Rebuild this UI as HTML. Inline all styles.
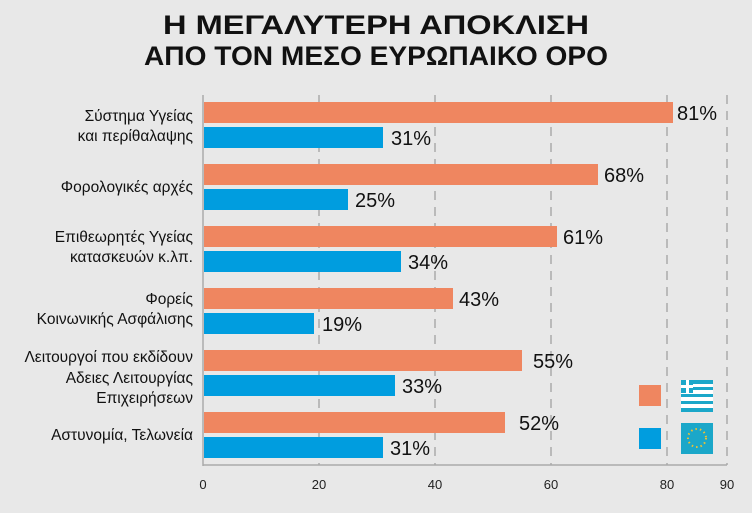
<!DOCTYPE html>
<html><head><meta charset="utf-8"><style>
body{margin:0;background:#fff}
svg{display:block}
text{font-family:"Liberation Sans",sans-serif}
</style></head><body>
<svg width="752" height="519" xmlns="http://www.w3.org/2000/svg">
<rect x="0" y="0" width="752" height="513" fill="#e8e8e8"/>
<text x="376" y="34" text-anchor="middle" font-size="27" font-weight="bold" fill="#111" textLength="426" lengthAdjust="spacingAndGlyphs">Η ΜΕΓΑΛΥΤΕΡΗ ΑΠΟΚΛΙΣΗ</text>
<text x="376" y="65" text-anchor="middle" font-size="27" font-weight="bold" fill="#111" textLength="464" lengthAdjust="spacingAndGlyphs">ΑΠΟ ΤΟΝ ΜΕΣΟ ΕΥΡΩΠΑΙΚΟ ΟΡΟ</text>
<g stroke="#aaa" stroke-width="1.5" stroke-dasharray="9,7">
<line x1="319" y1="95" x2="319" y2="465"/>
<line x1="435" y1="95" x2="435" y2="465"/>
<line x1="551" y1="95" x2="551" y2="465"/>
<line x1="667" y1="95" x2="667" y2="465"/>
<line x1="727" y1="95" x2="727" y2="465"/>
</g>
<line x1="203" y1="95" x2="203" y2="466" stroke="#aaa" stroke-width="1.5"/>
<line x1="203" y1="465" x2="727" y2="465" stroke="#aaa" stroke-width="1.5"/>
<g font-size="13" fill="#222" text-anchor="middle">
<text x="203" y="489">0</text><text x="319" y="489">20</text><text x="435" y="489">40</text><text x="551" y="489">60</text><text x="667" y="489">80</text><text x="727" y="489">90</text>
</g>
<g fill="#ef8660">
<rect x="204" y="102" width="469" height="21"/>
<rect x="204" y="164" width="394" height="21"/>
<rect x="204" y="226" width="353" height="21"/>
<rect x="204" y="288" width="249" height="21"/>
<rect x="204" y="350" width="318" height="21"/>
<rect x="204" y="412" width="301" height="21"/>
</g>
<g fill="#009ddf">
<rect x="204" y="127" width="179" height="21"/>
<rect x="204" y="189" width="144" height="21"/>
<rect x="204" y="251" width="197" height="21"/>
<rect x="204" y="313" width="110" height="21"/>
<rect x="204" y="375" width="191" height="21"/>
<rect x="204" y="437" width="179" height="21"/>
</g>
<g font-size="20" fill="#111">
<text x="677" y="120">81%</text><text x="391" y="145">31%</text>
<text x="604" y="182">68%</text><text x="355" y="207">25%</text>
<text x="563" y="244">61%</text><text x="408" y="269">34%</text>
<text x="459" y="306">43%</text><text x="322" y="331">19%</text>
<text x="533" y="368">55%</text><text x="402" y="393">33%</text>
<text x="519" y="430">52%</text><text x="390" y="455">31%</text>
</g>
<g font-size="15.5" fill="#111" text-anchor="end">
<text x="193" y="121">Σύστημα Υγείας</text><text x="193" y="141">και περίθαλαψης</text>
<text x="193" y="192">Φορολογικές αρχές</text>
<text x="193" y="242">Επιθεωρητές Υγείας</text><text x="193" y="262">κατασκευών κ.λπ.</text>
<text x="193" y="304">Φορείς</text><text x="193" y="324">Κοινωνικής Ασφάλισης</text>
<text x="193" y="362">Λειτουργοί που εκδίδουν</text><text x="193" y="383">Αδειες Λειτουργίας</text><text x="193" y="403">Επιχειρήσεων</text>
<text x="193" y="440">Αστυνομία, Τελωνεία</text>
</g>
<rect x="639" y="385" width="22" height="21" fill="#ef8660"/>
<rect x="639" y="428" width="22" height="21" fill="#009ddf"/>
<g>
<rect x="681" y="380" width="32" height="31" fill="#fff"/>
<g fill="#1ba7c9">
<rect x="681" y="380" width="32" height="4"/><rect x="681" y="387" width="32" height="3"/><rect x="681" y="394" width="32" height="3"/><rect x="681" y="401" width="32" height="3"/><rect x="681" y="408" width="32" height="4"/>
<rect x="681" y="380" width="12" height="13"/>
</g>
<rect x="681" y="385" width="12" height="3" fill="#fff"/><rect x="686" y="380" width="3" height="13" fill="#fff"/>
<rect x="681" y="423" width="32" height="31" fill="#1ba7c9"/>
<circle cx="697" cy="438" r="9" fill="none" stroke="#f2c230" stroke-width="2" stroke-dasharray="1.5,3"/>
</g>
</svg>
</body></html>
